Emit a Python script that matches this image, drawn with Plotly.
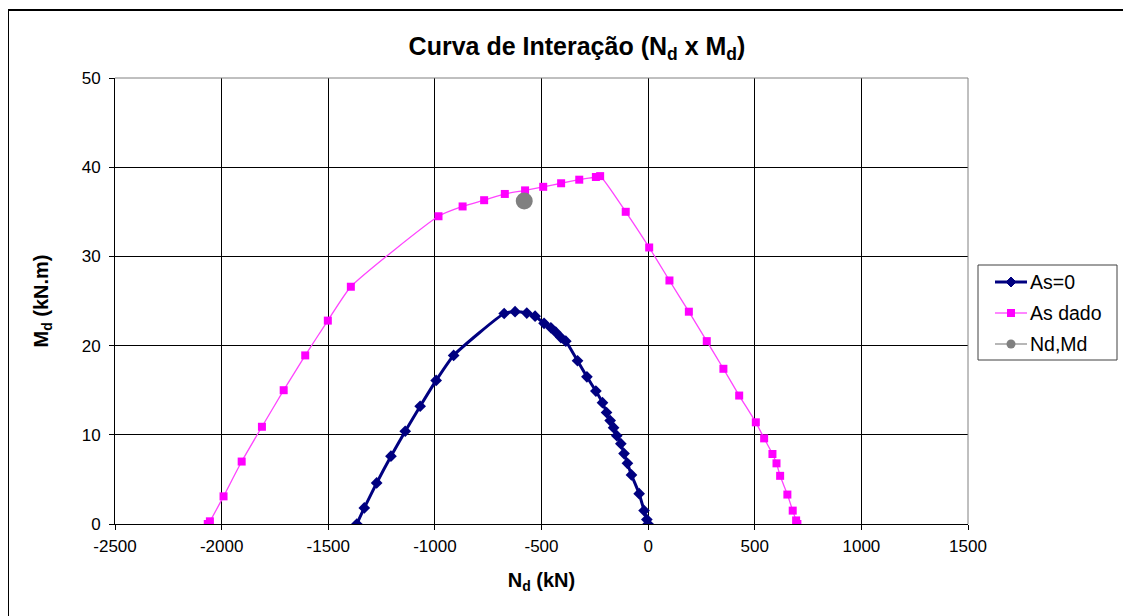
import plotly.graph_objects as go

# As = 0 curve
n_as0 = [-1366, -1331, -1273, -1206, -1139, -1069, -994, -912, -675, -624, -569, -530,
         -488, -456, -433, -409, -386, -331, -287, -245, -214, -195, -178, -162, -147,
         -128, -113, -97, -78, -42, -19, -6, 0]
m_as0 = [0, 1.8, 4.6, 7.6, 10.4, 13.2, 16.1, 18.9, 23.6, 23.8, 23.65, 23.3,
         22.5, 22.0, 21.5, 20.9, 20.5, 18.3, 16.5, 14.9, 13.6, 12.5, 11.6, 10.8, 9.9,
         9.0, 7.9, 6.8, 5.5, 3.4, 1.5, 0.5, 0]

# As dado curve
n_asd = [-2065, -2055, -1991, -1906, -1811, -1709, -1608, -1502, -1394, -983, -870, -769,
         -672, -577, -492, -408, -323, -245, -225, -105, 5, 100, 191, 275, 353, 427,
         505, 544, 583, 602, 619, 653, 678, 694, 700]
m_asd = [0, 0.3, 3.1, 7.0, 10.9, 15.0, 18.9, 22.8, 26.6, 34.5, 35.6, 36.3,
         37.0, 37.4, 37.8, 38.2, 38.6, 38.9, 39.0, 35.0, 31.0, 27.3, 23.8, 20.5, 17.4, 14.4,
         11.4, 9.6, 7.85, 6.8, 5.4, 3.3, 1.5, 0.4, 0]

# Design point
n_pt = [-581]
m_pt = [36.2]

# Tick labels
x_ticks = [-2500, -2000, -1500, -1000, -500, 0, 500, 1000, 1500]
x_ticklabels = ["-2500", "-2000", "-1500", "-1000", "-500", "0", "500", "1000", "1500"]
y_ticks = [0, 10, 20, 30, 40, 50]
y_ticklabels = ["0", "10", "20", "30", "40", "50"]

legend_names = ["As=0", "As dado", "Nd,Md"]

FONT = "Liberation Sans, Arial, sans-serif"
NAVY = "#000080"
MAG = "#FF00FF"
MAGLINE = "#FF44FF"
GRAY = "#808080"

fig = go.Figure()
fig.add_trace(go.Scatter(
    x=n_as0, y=m_as0, mode="lines+markers", name=legend_names[0],
    line=dict(color=NAVY, width=3, shape="spline", smoothing=0.5),
    marker=dict(symbol="diamond", size=9, color=NAVY),
))
fig.add_trace(go.Scatter(
    x=n_asd, y=m_asd, mode="lines+markers", name=legend_names[1],
    line=dict(color=MAGLINE, width=1.3, shape="spline", smoothing=0.5),
    marker=dict(symbol="square", size=8, color=MAG),
))
fig.add_trace(go.Scatter(
    x=n_pt, y=m_pt, mode="markers", name=legend_names[2],
    marker=dict(symbol="circle", size=17, color=GRAY),
))

# page offset of the plot: body has an 8px margin
OFF = 8
L, R, T, B = 115, 968, 78, 524  # plot area in page pixels
W, H = 1131 - OFF, 616 - OFF


def px(x):
    return (x - L) / (R - L)


def py(y):
    return (B - y) / (B - T)


fig.update_layout(
    width=W, height=H,
    margin=dict(l=L - OFF, r=W - (R - OFF), t=T - OFF, b=H - (B - OFF)),
    paper_bgcolor="white", plot_bgcolor="white",
    font=dict(family=FONT, size=17, color="black"),
    showlegend=False,
    title=dict(text="<b>Curva de Interação (N<sub>d</sub> x M<sub>d</sub>)</b>",
               x=px(577), xref="paper", xanchor="center",
               y=1 - (46 - OFF) / H, yref="container", yanchor="middle",
               font=dict(size=25, color="black")),
    xaxis=dict(range=[-2500, 1500], tickvals=x_ticks, ticktext=x_ticklabels,
               showgrid=True, gridcolor="black", gridwidth=1,
               showline=True, linecolor="black", linewidth=1,
               ticks="outside", ticklen=5, tickcolor="black",
               zeroline=False, ticklabelstandoff=2,
               title=dict(text="<b>N<sub>d</sub> (kN)</b>", font=dict(size=20), standoff=17)),
    yaxis=dict(range=[0, 50], tickvals=y_ticks, ticktext=y_ticklabels,
               showgrid=True, gridcolor="black", gridwidth=1,
               showline=True, linecolor="black", linewidth=1,
               ticks="outside", ticklen=5, tickcolor="black",
               zeroline=False, ticklabelstandoff=5,
               title=dict(text="<b>M<sub>d</sub> (kN.m)</b>", font=dict(size=20), standoff=27)),
)

# gray plot-area border on top/right
fig.add_shape(type="line", xref="paper", yref="paper", x0=0, x1=1, y0=1, y1=1,
              line=dict(color=GRAY, width=1), layer="above")
fig.add_shape(type="line", xref="paper", yref="paper", x0=1, x1=1, y0=0, y1=1,
              line=dict(color=GRAY, width=1), layer="above")
# outer chart border
fig.add_shape(type="rect", xref="paper", yref="paper",
              x0=px(8), x1=px(1140), y0=py(640), y1=py(10),
              line=dict(color="black", width=2), layer="below")

# manual legend
fig.add_shape(type="rect", xref="paper", yref="paper",
              x0=px(978), x1=px(1117), y0=py(360), y1=py(265),
              line=dict(color="#404040", width=1), fillcolor="white", layer="above")
item_y = [282, 313, 344]
line_cols = [NAVY, MAGLINE, "#909090"]
line_w = [3, 1.3, 1.3]
for i, name in enumerate(legend_names):
    yy = py(item_y[i])
    fig.add_shape(type="line", xref="paper", yref="paper",
                  x0=px(995), x1=px(1027), y0=yy, y1=yy,
                  line=dict(color=line_cols[i], width=line_w[i]), layer="above")
    fig.add_annotation(text=name, xref="paper", yref="paper", x=px(1028), y=yy,
                       xanchor="left", yanchor="middle", showarrow=False,
                       font=dict(size=19.5, color="black"))
xa = px(1011)
fig.add_shape(type="path", xref="paper", yref="paper", xsizemode="pixel", ysizemode="pixel",
              xanchor=xa, yanchor=py(item_y[0]), path="M -5 0 L 0 5 L 5 0 L 0 -5 Z",
              fillcolor=NAVY, line=dict(color=NAVY, width=1), layer="above")
fig.add_shape(type="rect", xref="paper", yref="paper", xsizemode="pixel", ysizemode="pixel",
              xanchor=xa, yanchor=py(item_y[1]), x0=-4, x1=4, y0=-4, y1=4,
              fillcolor=MAG, line=dict(color=MAG, width=0), layer="above")
fig.add_shape(type="circle", xref="paper", yref="paper", xsizemode="pixel", ysizemode="pixel",
              xanchor=xa, yanchor=py(item_y[2]), x0=-4.5, x1=4.5, y0=-4.5, y1=4.5,
              fillcolor=GRAY, line=dict(color=GRAY, width=0), layer="above")

fig.write_html("out.html")
